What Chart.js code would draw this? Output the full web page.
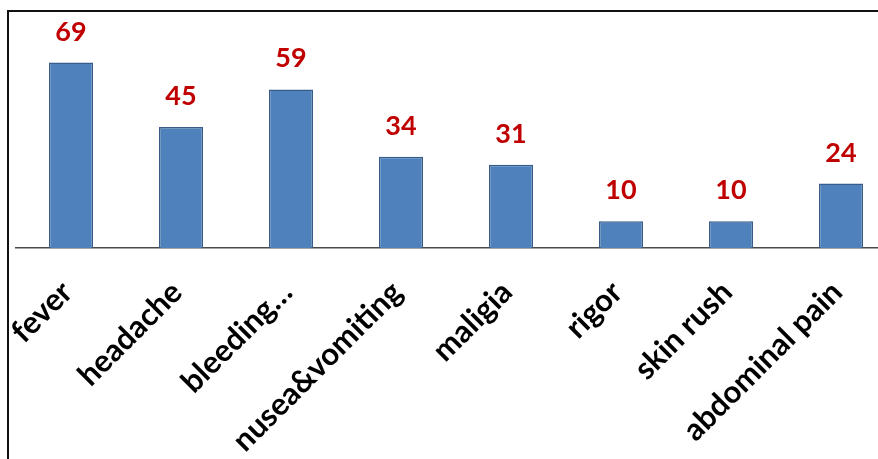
<!DOCTYPE html>
<html>
<head>
<meta charset="utf-8">
<script src="https://cdn.jsdelivr.net/npm/chart.js@4"></script>
<style>
  html, body { margin: 0; padding: 0; background: #fff; overflow: hidden; width: 878px; height: 459px; }
  #frame {
    position: absolute; left: 7px; top: 10px; width: 900px; height: 460px;
    border-left: 2px solid #111; border-top: 2px solid #111;
  }
  #chart { position: absolute; left: 9px; top: 12px; }
</style>
</head>
<body>
<div id="frame"></div>
<canvas id="chart" width="890" height="447"></canvas>
<script>
// Symptom frequencies
const symptoms = ['fever', 'headache', 'bleeding…', 'nusea&vomiting', 'maligia', 'rigor', 'skin rush', 'abdominal pain'];
const counts = [69, 45, 59, 34, 31, 10, 10, 24];

// Draws each bar's value in bold red above the bar
const valueLabels = {
  id: 'valueLabels',
  afterDatasetsDraw(chart) {
    const ctx = chart.ctx;
    const meta = chart.getDatasetMeta(0);
    ctx.save();
    ctx.font = 'bold 27px Lato';
    ctx.fillStyle = '#C00000';
    ctx.textAlign = 'center';
    ctx.textBaseline = 'alphabetic';
    meta.data.forEach((bar, i) => {
      ctx.fillText(String(counts[i]), bar.x, bar.y - 22);
    });
    ctx.restore();
  }
};

new Chart(document.getElementById('chart'), {
  type: 'bar',
  data: {
    labels: symptoms,
    datasets: [{
      data: counts,
      backgroundColor: '#4F81BD',
      borderColor: '#385D8A',
      borderWidth: 1.5,
      categoryPercentage: 1,
      barPercentage: 0.4
    }]
  },
  options: {
    responsive: false,
    animation: false,
    layout: { padding: { left: 7, right: 3, top: 21, bottom: 0 } },
    plugins: { legend: { display: false }, tooltip: { enabled: false } },
    scales: {
      x: {
        grid: { display: false, drawTicks: false },
        border: { display: true, color: '#4a4a4a', width: 1.5 },
        ticks: {
          autoSkip: false,
          maxRotation: 45,
          minRotation: 45,
          padding: 26,
          labelOffset: -4,
          color: '#000',
          font: { family: 'Lato', weight: 'bold', size: 31 }
        },
        afterFit(scale) {
          scale.height = 211;
          scale.paddingLeft = 0;
          scale.paddingRight = 0;
        }
      },
      y: {
        display: false,
        min: 0,
        max: 80
      }
    }
  },
  plugins: [valueLabels]
});
</script>
</body>
</html>
